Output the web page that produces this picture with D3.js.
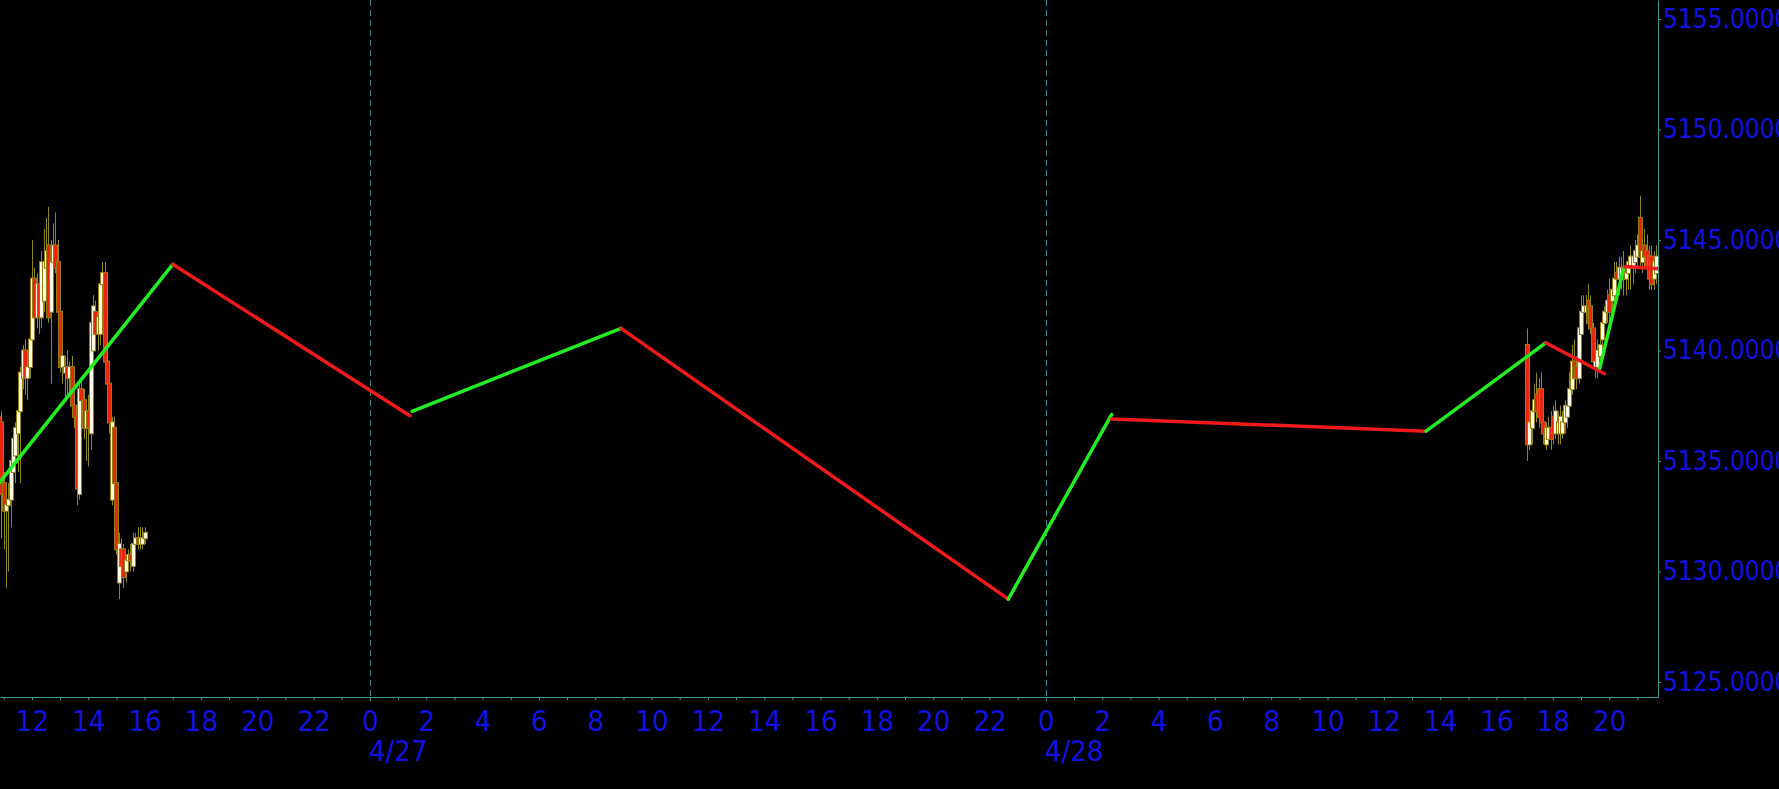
<!DOCTYPE html>
<html><head><meta charset="utf-8">
<script src="https://cdn.jsdelivr.net/npm/d3@7"></script>
<style>
html,body{margin:0;padding:0;background:#000;overflow:hidden;}
svg{display:block;}
</style></head><body>
<svg id="chart" width="1779" height="789"></svg>
<script>
// ---------------- data ----------------
const viewStart = "2024-04-26 10:52";
const viewEnd   = "2024-04-28 21:44";
const barMinutes = 5;

const leftStart = "2024-04-26 10:50";
const leftOpen  = [5137.0,5136.75,5134.0,5132.75,5133.0,5133.25,5134.5,5135.25,5136.25,5137.25,5138.75,5140.0,5138.75,5139.25,5140.5,5143.25,5141.5,5143.0,5141.5,5142.25,5143.75,5144.75,5141.75,5144.0,5144.75,5144.0,5141.75,5139.25,5139.0,5139.25,5138.75,5139.25,5137.5,5137.0,5133.5,5138.25,5137.75,5136.5,5137.25,5136.25,5140.0,5141.75,5140.75,5140.75,5143.0,5143.5,5139.5,5138.5,5133.25,5136.5,5134.0,5129.5,5131.0,5131.0,5130.0,5130.5,5130.75,5130.25,5131.25,5131.5,5131.25,5131.25,5131.5];
const leftHigh  = [5137.5,5137.25,5134.5,5133.75,5134.0,5135.25,5136.5,5136.75,5137.5,5139.25,5140.25,5140.5,5139.75,5140.75,5145.0,5143.75,5143.5,5143.5,5144.5,5145.5,5146.0,5146.5,5145.0,5145.75,5146.25,5145.0,5142.5,5140.25,5139.75,5140.0,5139.5,5139.75,5138.0,5137.5,5138.5,5138.75,5138.25,5137.5,5138.0,5141.5,5142.5,5142.25,5141.75,5143.5,5144.0,5144.0,5140.0,5139.0,5137.0,5137.0,5134.5,5131.75,5131.5,5131.25,5130.75,5131.0,5131.25,5131.75,5131.75,5132.0,5132.0,5132.0,5132.0];
const leftLow   = [5134.5,5131.5,5131.0,5129.25,5130.0,5132.0,5133.5,5134.0,5134.5,5134.0,5138.25,5138.0,5137.75,5138.75,5140.0,5141.25,5141.0,5140.75,5141.0,5141.75,5143.0,5141.25,5138.5,5143.5,5143.5,5141.5,5139.0,5138.5,5137.75,5138.0,5138.0,5137.0,5136.5,5133.0,5133.25,5137.25,5136.0,5135.0,5134.75,5135.5,5139.5,5140.25,5140.0,5140.25,5142.5,5139.0,5138.0,5136.25,5133.0,5133.5,5130.75,5128.75,5129.5,5129.25,5129.5,5130.0,5130.0,5130.0,5130.75,5131.0,5131.0,5131.0,5131.25];
const leftClose = [5135.0,5133.5,5132.75,5133.0,5133.25,5135.0,5136.0,5136.5,5137.25,5139.0,5140.0,5138.75,5139.25,5140.5,5143.25,5141.5,5143.0,5141.5,5144.0,5144.0,5144.5,5141.5,5144.0,5144.75,5143.75,5141.75,5139.25,5139.75,5139.25,5138.75,5139.25,5137.5,5137.0,5133.75,5138.25,5137.75,5136.5,5137.25,5136.5,5141.25,5142.0,5140.75,5141.5,5143.0,5143.5,5139.5,5138.5,5136.75,5136.75,5134.0,5131.0,5131.25,5130.25,5129.75,5130.5,5130.75,5130.5,5131.25,5131.5,5131.25,5131.5,5131.5,5131.75];

const rightStart = "2024-04-28 17:05";
const rightOpen  = [5140.25,5135.75,5136.5,5137.25,5138.0,5138.25,5138.25,5136.75,5135.75,5136.0,5136.5,5137.0,5136.25,5136.25,5136.25,5136.25,5136.75,5137.0,5137.5,5138.25,5139.5,5139.25,5138.75,5140.75,5141.75,5141.75,5142.25,5142.0,5141.0,5139.25,5139.25,5139.75,5140.5,5141.25,5141.75,5142.5,5142.25,5142.5,5143.5,5143.25,5143.25,5143.75,5143.25,5143.5,5143.75,5143.75,5144.0,5144.25,5146.0,5144.0,5144.75,5144.5,5144.25,5144.25,5143.25,5143.5];
const rightHigh  = [5141.0,5137.5,5137.5,5138.5,5139.0,5138.75,5139.0,5137.25,5136.75,5137.0,5137.25,5137.5,5137.75,5137.25,5137.5,5137.25,5137.75,5138.0,5139.0,5140.25,5140.5,5139.75,5141.5,5142.5,5142.5,5142.5,5143.0,5142.5,5141.25,5140.25,5140.5,5140.5,5141.75,5142.0,5142.75,5143.25,5143.0,5144.0,5144.0,5144.25,5144.25,5144.5,5144.0,5144.25,5144.75,5144.5,5145.0,5145.25,5147.0,5145.0,5145.5,5145.25,5144.75,5144.75,5144.5,5144.75];
const rightLow   = [5135.0,5135.5,5135.75,5136.75,5136.75,5136.5,5136.25,5135.75,5135.5,5135.75,5135.5,5135.75,5136.0,5135.75,5135.75,5136.0,5136.25,5136.5,5137.0,5138.0,5138.5,5138.25,5138.5,5140.5,5141.25,5141.25,5141.0,5140.75,5139.25,5138.75,5138.75,5139.0,5140.0,5140.75,5141.25,5141.0,5141.5,5142.0,5142.5,5142.5,5142.75,5142.5,5142.5,5142.75,5142.75,5143.0,5143.5,5143.75,5143.75,5143.5,5143.75,5143.25,5142.75,5142.75,5142.75,5143.0];
const rightClose = [5135.75,5136.75,5137.25,5137.75,5137.25,5137.0,5136.75,5136.25,5136.5,5136.5,5136.0,5136.25,5137.25,5136.75,5137.0,5136.75,5137.5,5137.5,5138.25,5139.5,5138.75,5138.75,5141.0,5141.75,5142.0,5142.0,5141.25,5141.0,5139.5,5139.5,5140.0,5140.25,5141.25,5141.75,5142.25,5141.75,5142.75,5143.25,5143.25,5143.75,5143.75,5143.25,5143.5,5144.0,5144.25,5144.25,5144.5,5144.75,5144.25,5144.5,5144.25,5143.75,5143.25,5143.0,5144.0,5144.25];

// zigzag legs
const zzFrom      = ["2024-04-26 10:50","2024-04-26 17:00","2024-04-27 01:30","2024-04-27 08:55","2024-04-27 22:40","2024-04-28 02:20","2024-04-28 13:30","2024-04-28 17:45","2024-04-28 19:40","2024-04-28 20:35"];
const zzFromPrice = [5134.0,5143.9,5137.25,5141.0,5128.75,5136.9,5136.35,5140.35,5139.2,5143.8];
const zzTo        = ["2024-04-26 17:00","2024-04-27 01:25","2024-04-27 08:55","2024-04-27 22:40","2024-04-28 02:20","2024-04-28 13:30","2024-04-28 17:45","2024-04-28 19:50","2024-04-28 20:30","2024-04-28 21:45"];
const zzToPrice   = [5143.9,5137.05,5141.0,5128.75,5137.1,5136.35,5140.35,5138.95,5143.65,5143.7];

const yTicks    = [5125,5130,5135,5140,5145,5150,5155];
const dayStarts = ["2024-04-27 00:00","2024-04-28 00:00"];
const dayLabels = ["4/27","4/28"];

// ---------------- layout / style ----------------
const W = 1779, H = 789, plotR = 1658, plotB = 697;
const axisColor = "#3f9c9c", textColor = "#1212e4";
const fontFam = "'DejaVu Sans Condensed','DejaVu Sans',sans-serif";

const parse = d3.utcParse("%Y-%m-%d %H:%M");
const x = d3.scaleUtc().domain([parse(viewStart), parse(viewEnd)]).range([0, plotR]);
const y = d3.scaleLinear().domain([5124.32, 5155.86]).range([plotB, 0]);

const svg = d3.select("#chart");
svg.append("rect").attr("width", W).attr("height", H).attr("fill", "#000");
svg.append("clipPath").attr("id", "clip").append("rect")
  .attr("x", 0).attr("y", 0).attr("width", plotR).attr("height", plotB);

// day separators
svg.append("g").selectAll("line").data(dayStarts).join("line")
  .attr("x1", d => Math.round(x(parse(d))) + 0.5).attr("x2", d => Math.round(x(parse(d))) + 0.5)
  .attr("y1", 0).attr("y2", plotB + 4)
  .attr("stroke", "#2f8c8c").attr("stroke-width", 1).attr("stroke-dasharray", "6,4");

// axes
const xAxis = d3.axisBottom(x).ticks(d3.utcHour.every(1)).tickSizeInner(3).tickSizeOuter(0).tickPadding(10)
  .tickFormat(d => d.getUTCHours() % 2 === 0 ? String(d.getUTCHours()) : "");
const gx = svg.append("g").attr("transform", `translate(0,${plotB})`).call(xAxis);
gx.select(".domain").attr("stroke", axisColor);
gx.selectAll(".tick line").attr("stroke", axisColor);
gx.selectAll(".tick text").attr("fill", textColor).attr("font-size", 29).attr("font-family", fontFam)
  .attr("font-stretch", "condensed");

svg.append("g").selectAll("text").data(dayLabels).join("text")
  .attr("x", (d, i) => x(parse(dayStarts[i])) - 1).attr("y", 761)
  .attr("fill", textColor).attr("font-size", 29).attr("font-family", fontFam).attr("font-stretch", "condensed")
  .text(d => d);

const yAxis = d3.axisRight(y).tickValues(yTicks).tickSizeInner(3).tickSizeOuter(0).tickPadding(2)
  .tickFormat(d3.format(".4f"));
const gy = svg.append("g").attr("transform", `translate(${plotR},0)`).call(yAxis);
gy.select(".domain").attr("stroke", axisColor);
gy.selectAll(".tick line").attr("stroke", axisColor);
gy.selectAll(".tick text").attr("fill", textColor).attr("font-size", 26).attr("font-family", fontFam)
  .attr("font-stretch", "condensed");

// candles
function bars(start, O, Hh, L, C) {
  const t0 = parse(start);
  return O.map((o, i) => ({ t: d3.utcMinute.offset(t0, i * barMinutes), o, h: Hh[i], l: L[i], c: C[i] }));
}
const candles = bars(leftStart, leftOpen, leftHigh, leftLow, leftClose)
  .concat(bars(rightStart, rightOpen, rightHigh, rightLow, rightClose));

const plot = svg.append("g").attr("clip-path", "url(#clip)");
const cg = plot.selectAll("g.c").data(candles).join("g").attr("class", "c");
cg.append("line")
  .attr("x1", d => Math.round(x(d.t)) + 0.5).attr("x2", d => Math.round(x(d.t)) + 0.5)
  .attr("y1", d => y(d.h)).attr("y2", d => y(d.l))
  .attr("stroke", "#8e8a1a").attr("stroke-width", 1);
cg.append("rect")
  .attr("x", d => Math.round(x(d.t)) - 1.5).attr("width", 4)
  .attr("y", d => y(Math.max(d.o, d.c)) - 0.5)
  .attr("height", d => Math.max(1, Math.abs(y(d.o) - y(d.c))) + 1)
  .attr("fill", d => d.c >= d.o ? "#fffbe0" : "#e8260c")
  .attr("stroke", "#9a7a12").attr("stroke-width", 1);

// zigzag
const legs = zzFrom.map((f, i) => ({ t0: parse(f), p0: zzFromPrice[i], t1: parse(zzTo[i]), p1: zzToPrice[i] }));
plot.selectAll("line.zz").data(legs).join("line").attr("class", "zz")
  .attr("x1", d => x(d.t0)).attr("y1", d => y(d.p0))
  .attr("x2", d => x(d.t1)).attr("y2", d => y(d.p1))
  .attr("stroke", d => d.p1 >= d.p0 ? "#22ee22" : "#f01a1a")
  .attr("stroke-width", 3.5).attr("stroke-linecap", "round");
</script>
</body></html>
